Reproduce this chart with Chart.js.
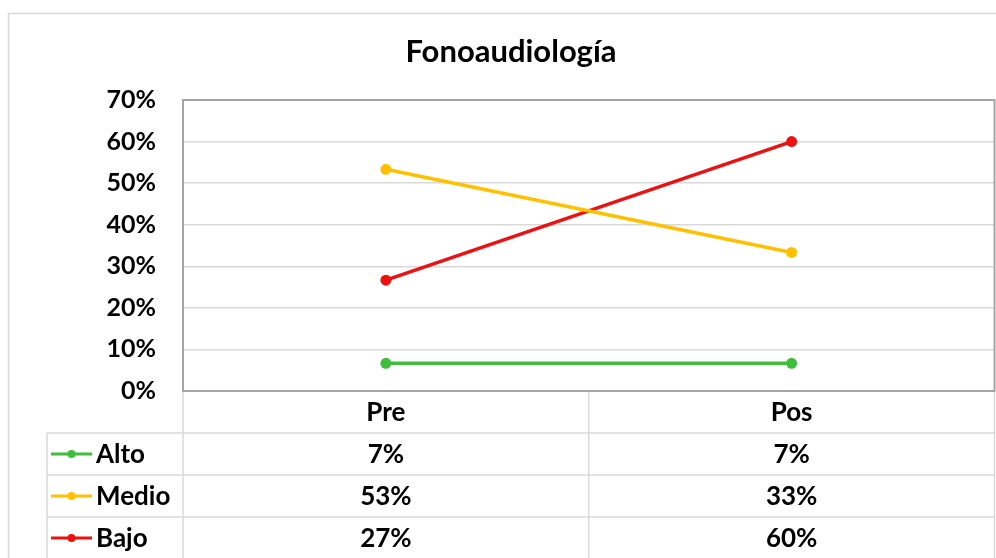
<!DOCTYPE html>
<html>
<head>
<meta charset="utf-8">
<script src="https://cdn.jsdelivr.net/npm/chart.js@4/dist/chart.umd.min.js"></script>
<style>
html,body{margin:0;padding:0;background:#fff;overflow:hidden;}
#wrap{position:relative;width:996px;height:558px;overflow:hidden;}
#c{display:block;}
</style>
</head>
<body>
<div id="wrap"><canvas id="c" width="1000" height="558"></canvas></div>
<script>
const titleText = 'Fonoaudiología';
const categories = ['Pre', 'Pos'];
const seriesNames = ['Alto', 'Medio', 'Bajo'];
const altoValues = [6.67, 6.67];
const medioValues = [53.33, 33.33];
const bajoValues = [26.67, 60];
const seriesColors = ['#3DBE3D', '#FFC000', '#EE1111'];
const yMax = 70;
const yStep = 10;

const FONT = 'Lato, "Open Sans", sans-serif';
const rowCount = seriesNames.length;

const tablePlugin = {
  id: 'tablePlugin',
  beforeDraw(chart) {
    const ctx = chart.ctx;
    ctx.save();
    ctx.fillStyle = '#fff';
    ctx.fillRect(0, 0, chart.width, chart.height);
    ctx.strokeStyle = '#d9d9d9';
    ctx.lineWidth = 1.5;
    ctx.strokeRect(8.5, 13.5, 1100, 700);
    ctx.restore();
  },
  afterDraw(chart) {
    const ctx = chart.ctx;
    const ca = chart.chartArea;
    const xs = chart.scales.x;
    const rowH = xs.bottom - xs.top;
    const p0 = xs.getPixelForValue(0);
    const p1 = xs.getPixelForValue(1);
    const half = (p1 - p0) / 2;
    const legendLeft = 47;
    ctx.save();
    // title
    ctx.fillStyle = '#000';
    ctx.font = 'bold 31px ' + FONT;
    ctx.textAlign = 'center';
    ctx.textBaseline = 'middle';
    ctx.fillText(titleText, 511, 52);
    // table lines
    ctx.strokeStyle = '#d9d9d9';
    ctx.lineWidth = 1.5;
    ctx.beginPath();
    const vx = [ca.left];
    for (let i = 0; i < categories.length; i++) vx.push(xs.getPixelForValue(i) + half);
    vx.forEach(x => { ctx.moveTo(x, ca.bottom); ctx.lineTo(x, chart.height); });
    ctx.moveTo(legendLeft, xs.bottom); ctx.lineTo(legendLeft, chart.height);
    for (let r = 0; r < rowCount; r++) {
      const y = xs.bottom + r * rowH;
      ctx.moveTo(legendLeft, y); ctx.lineTo(ca.right, y);
    }
    ctx.stroke();
    // plot border
    ctx.strokeStyle = '#a5a5a5';
    ctx.lineWidth = 2;
    ctx.strokeRect(ca.left, ca.top, ca.right - ca.left, ca.bottom - ca.top);
    // header row (categories)
    ctx.font = 'bold 26px ' + FONT;
    ctx.fillStyle = '#000';
    ctx.textAlign = 'center';
    categories.forEach((c, i) => {
      ctx.fillText(c, xs.getPixelForValue(i), xs.top + rowH / 2 + 1);
    });
    // data rows
    chart.data.datasets.forEach((ds, r) => {
      const yc = xs.bottom + r * rowH + rowH / 2;
      ctx.strokeStyle = ds.borderColor;
      ctx.lineWidth = 3;
      ctx.beginPath();
      ctx.moveTo(51, yc); ctx.lineTo(92, yc);
      ctx.stroke();
      ctx.fillStyle = ds.borderColor;
      ctx.beginPath();
      ctx.arc(71.5, yc, 4, 0, Math.PI * 2);
      ctx.fill();
      ctx.fillStyle = '#000';
      ctx.textAlign = 'left';
      ctx.fillText(ds.label, 96, yc + 1);
      ctx.textAlign = 'center';
      ds.data.forEach((v, i) => {
        ctx.fillText(Math.round(v) + '%', xs.getPixelForValue(i), yc + 1);
      });
    });
    ctx.restore();
  }
};

function mkDs(label, data, color) {
  return {
    label, data,
    borderColor: color, backgroundColor: color,
    borderWidth: 3.5, pointRadius: 5.5, pointHoverRadius: 5.5,
    pointBackgroundColor: color, pointBorderColor: color, pointBorderWidth: 0,
    tension: 0
  };
}

new Chart(document.getElementById('c'), {
  type: 'line',
  data: {
    labels: categories,
    datasets: [
      mkDs(seriesNames[0], altoValues, seriesColors[0]),
      mkDs(seriesNames[1], medioValues, seriesColors[1]),
      mkDs(seriesNames[2], bajoValues, seriesColors[2])
    ]
  },
  options: {
    responsive: false,
    animation: false,
    events: [],
    layout: { padding: { left: 0, top: 100, right: 0, bottom: 125 } },
    plugins: { legend: { display: false }, title: { display: false }, tooltip: { enabled: false } },
    scales: {
      x: {
        offset: true,
        grid: { display: false, drawTicks: false },
        border: { display: false },
        ticks: { display: false },
        afterFit(s) { s.height = 42; }
      },
      y: {
        min: 0, max: yMax,
        grid: { color: '#d9d9d9', lineWidth: 1.5, drawTicks: false },
        border: { display: false },
        ticks: {
          stepSize: yStep, color: '#000', padding: 27,
          font: { family: FONT, size: 25, weight: 'bold' },
          callback: v => v + '%'
        },
        afterFit(s) { s.width = 183; }
      }
    }
  },
  plugins: [tablePlugin]
});
</script>
</body>
</html>
